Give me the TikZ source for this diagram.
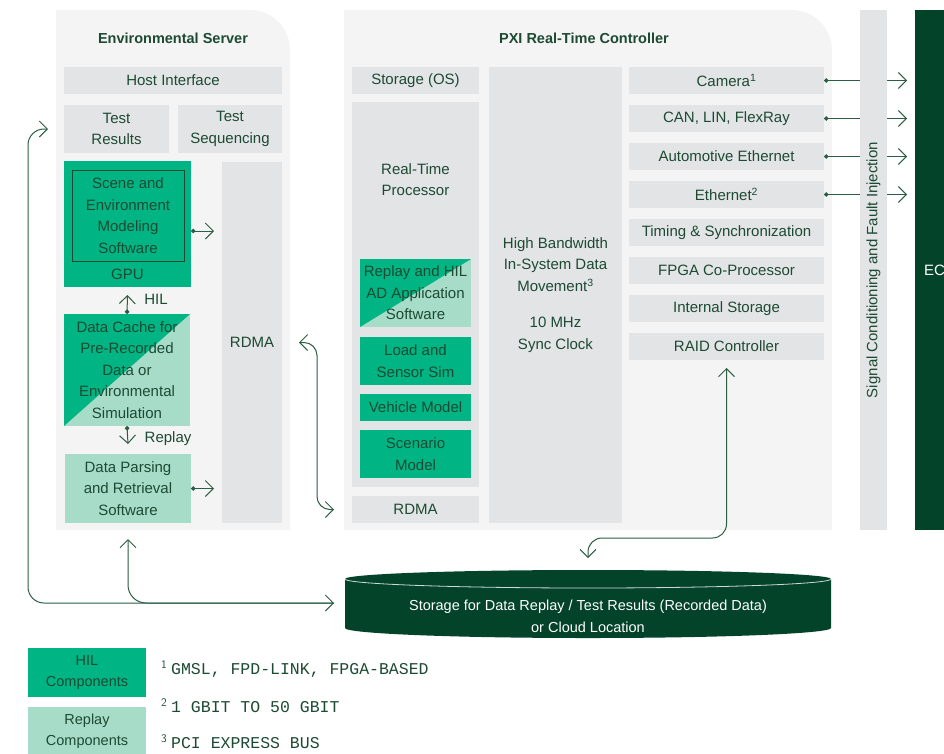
\documentclass[tikz,border=0pt]{standalone}
\usepackage{fontspec}
\setmainfont{Liberation Sans}
\setmonofont{Liberation Mono}
\usetikzlibrary{arrows.meta}
\usetikzlibrary{positioning}

\definecolor{panelgray}{HTML}{F4F4F4}
\definecolor{boxgray}{HTML}{E3E4E6}
\definecolor{hilgreen}{HTML}{00B483}
\definecolor{replaygreen}{HTML}{A7DCC9}
\definecolor{txtgreen}{HTML}{1D4A33}
\definecolor{linkgreen}{HTML}{2B5E42}
\definecolor{ecugreen}{HTML}{03432A}

\newcommand\dgfont{\fontsize{15}{21.5}\selectfont}
\newcommand\dgtitle{\fontsize{14.5}{17}\selectfont\bfseries}
\newcommand\dgnote{\fontsize{16.5}{20}\selectfont\ttfamily}
\newcommand\fnmark[1]{{\sffamily\textsuperscript{#1}}\hspace{4pt}}

\tikzset{
  txt/.style={text=txtgreen, font=\dgfont, align=center, inner sep=0pt, outer sep=0pt},
  graybox/.style={txt, fill=boxgray},
  hilbox/.style={txt, fill=hilgreen},
  replaybox/.style={txt, fill=replaygreen},
  splitbox/.style={txt, fill=replaygreen,
    path picture={\fill[hilgreen] (path picture bounding box.north west) -- (path picture bounding box.north east) -- (path picture bounding box.south west) -- cycle;}},
  link/.style={draw=linkgreen, line width=1pt},
  dotlink/.style={link, {Circle[length=4.5pt]}->},
}

\begin{document}
\begin{tikzpicture}[x=1pt, y=-1pt, >={Straight Barb[length=8pt,width=16pt]}]
  \useasboundingbox (0,0) rectangle (944,753);
  \clip (0,0) rectangle (944,753);

  % environmental server
  \fill[panelgray] (56,530) -- (56,10) -- (250,10) arc[start angle=90, end angle=0, radius=40pt] -- (290,530) -- cycle;
  \node[txt, font=\dgtitle] (envtitle) at (173,38) {Environmental Server};
  \node[graybox, minimum width=218, minimum height=27] (hostif) at (173,80.5) {Host Interface};
  \node[graybox, minimum width=105, minimum height=48] (testres) at (116.5,129) {Test\\Results};
  \node[graybox, minimum width=104, minimum height=48] (testseq) at (230,129) {Test\\Sequencing};
  \node[hilbox, minimum width=127, minimum height=126] (gpu) at (127.5,224) {};
  \node[hilbox, draw=txtgreen, line width=1pt, minimum width=112, minimum height=91] (scene) at (128,215.5) {Scene and\\Environment\\Modeling\\Software};
  \node[txt] (gpulbl) at (127.5,274) {GPU};
  \node[graybox, minimum width=60, minimum height=361] (envrdma) at (252,342.5) {RDMA};
  \node[splitbox, minimum width=126, minimum height=112] (cache) at (127,370) {Data Cache for\\Pre-Recorded\\Data or\\Environmental\\Simulation};
  \node[replaybox, minimum width=126, minimum height=69] (parsing) at (128,488.5) {Data Parsing\\and Retrieval\\Software};

  \coordinate (gpuout) at ([yshift=-7pt]gpu.east);
  \draw[dotlink] (gpuout) -- ([xshift=-8pt]envrdma.west |- gpuout);
  \draw[dotlink] (parsing.east) -- ([xshift=-8pt]envrdma.west |- parsing.east);
  \draw[dotlink] (cache.north) -- ([yshift=-8pt]gpu.south) node[txt, pos=0.75, right=17pt] (hillbl) {HIL};
  \draw[dotlink] (cache.south) -- ([yshift=10pt]parsing.north) node[txt, pos=0.72, right=17pt] (replaylbl) {Replay};

  % pxi real-time controller
  \fill[panelgray] (344,530) -- (344,10) -- (792,10) arc[start angle=90, end angle=0, radius=40pt] -- (832,530) -- cycle;
  \node[txt, font=\dgtitle] (pxititle) at (584,38) {PXI Real-Time Controller};
  \node[graybox, minimum width=127, minimum height=27] (storos) at (415.5,80.5) {Storage (OS)};
  \node[graybox, minimum width=127, minimum height=385] (rtproc) at (415.5,294.5) {};
  \node[txt] (rtlbl) at ([yshift=-77.5pt]rtproc.north) {Real-Time\\Processor};
  \node[splitbox, minimum width=111, minimum height=68] (replayhil) at (415.5,293) {Replay and HIL\\AD Application\\Software};
  \node[hilbox, minimum width=111, minimum height=48] (loadsim) at (415.5,361) {Load and\\Sensor Sim};
  \node[hilbox, minimum width=111, minimum height=27] (vehicle) at (415.5,407.5) {Vehicle Model};
  \node[hilbox, minimum width=111, minimum height=48] (scenario) at (415.5,454) {Scenario\\Model};
  \node[graybox, minimum width=127, minimum height=27] (pxirdma) at (415.5,509.5) {RDMA};
  \node[graybox, minimum width=133, minimum height=456] (bandwidth) at (555.5,295)
    {High Bandwidth\\In-System Data\\Movement\textsuperscript{3}\\[15pt]10 MHz\\Sync Clock};
  \node[graybox, minimum width=195, minimum height=27] (camera) at (726.5,80.5) {Camera\textsuperscript{1}};
  \node[graybox, minimum width=195, minimum height=27] (canlin) at (726.5,118.5) {CAN, LIN, FlexRay};
  \node[graybox, minimum width=195, minimum height=27] (autoeth) at (726.5,156.5) {Automotive Ethernet};
  \node[graybox, minimum width=195, minimum height=27] (ethernet) at (726.5,194.5) {Ethernet\textsuperscript{2}};
  \node[graybox, minimum width=195, minimum height=27] (timing) at (726.5,232.5) {Timing \& Synchronization};
  \node[graybox, minimum width=195, minimum height=27] (fpga) at (726.5,270.5) {FPGA Co-Processor};
  \node[graybox, minimum width=195, minimum height=27] (intstor) at (726.5,308.5) {Internal Storage};
  \node[graybox, minimum width=195, minimum height=27] (raid) at (726.5,346.5) {RAID Controller};

  \draw[link, <->, rounded corners=13pt] ([xshift=17pt]envrdma.east) -- ++(18,0) |- ([xshift=-18pt]pxirdma.west);

  % unit under test
  \node[txt, fill=ecugreen, text=white, minimum width=50, minimum height=520] (ecu) at (940,270) {ECU};
  \foreach \src in {camera,canlin,autoeth,ethernet}
    \draw[dotlink] (\src.east) -- ([xshift=-8pt]ecu.west |- \src.east);
  \node[graybox, rotate=90, minimum width=520, minimum height=27] (sigcond) at (873.5,270) {Signal Conditioning and Fault Injection};

  % storage
  \fill[ecugreen] (345,579) -- (345,628) arc[start angle=180, end angle=360, x radius=243pt, y radius=10pt]
    -- (831,579) arc[start angle=0, end angle=180, x radius=243pt, y radius=9pt] -- cycle;
  \draw[white!80!ecugreen, line width=0.8pt] (345,579) arc[start angle=180, end angle=360, x radius=243pt, y radius=9pt];
  \node[txt, text=white, font=\fontsize{14.5}{22}\selectfont] (storage) at (588,616) {Storage for Data Replay / Test Results (Recorded Data)\\or Cloud Location};
  \coordinate (storin) at (334,603);
  \coordinate (stortop) at (588,558);

  \draw[link, <->, rounded corners=16pt] ([xshift=-16pt]testres.west) -- ++(-20,0) |- (storin);
  \draw[link, <-, rounded corners=18pt] ([yshift=-16pt]parsing.south) |- (storin);
  \draw[link, <->, rounded corners=14pt] ([yshift=-8pt]raid.south) -- ++(0,170) -| (stortop);

  % legend
  \node[hilbox, font=\fontsize{14.5}{21}\selectfont, minimum width=118, minimum height=49] (leghil) at (87,672.5) {HIL\\Components};
  \node[replaybox, font=\fontsize{14.5}{21}\selectfont, minimum width=118, minimum height=49] (legreplay) at (87,731.5) {Replay\\Components};
  \node[txt, font=\dgnote, anchor=west] (fnone) at (161,669) {\fnmark{1}GMSL, FPD-LINK, FPGA-BASED};
  \node[txt, font=\dgnote, anchor=west] (fntwo) at (161,706) {\fnmark{2}1 GBIT TO 50 GBIT};
  \node[txt, font=\dgnote, anchor=west] (fnthree) at (161,742) {\fnmark{3}PCI EXPRESS BUS};
\end{tikzpicture}
\end{document}
